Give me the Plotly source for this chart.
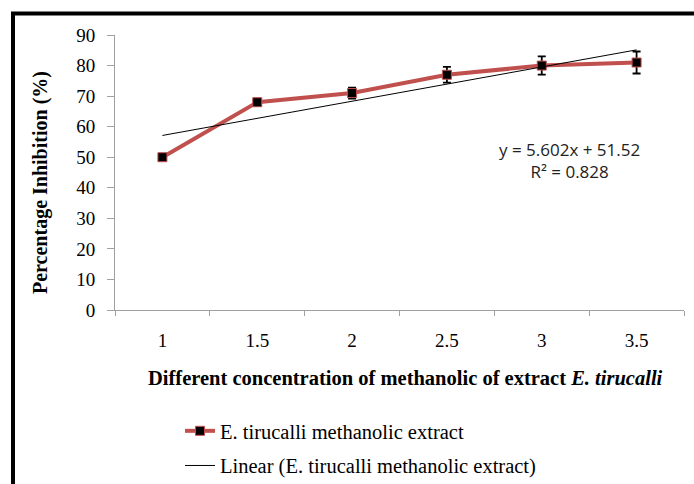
import plotly.graph_objects as go

concentrations = ["1", "1.5", "2", "2.5", "3", "3.5"]
inhibition = [50, 68, 71, 77, 80, 81]
errors = [0.5, 1.2, 1.8, 2.6, 3.0, 3.6]
slope = 5.602
intercept = 51.52
r_squared = 0.828

trend_x = [concentrations[0], concentrations[-1]]
trend_y = [slope * 1 + intercept, slope * len(concentrations) + intercept]

W, H = 694, 484
L, R, T, B = 115, 10, 35, 174
pw = W - L - R
ph = H - T - B

def px(x):
    return (x - L) / pw

def py(y):
    return (H - B - y) / ph

fig = go.Figure()
fig.add_trace(go.Scatter(
    x=concentrations, y=inhibition, mode="lines+markers",
    name="E. tirucalli methanolic extract", legendgroup="a",
    line=dict(color="#C0504D", width=4),
    marker=dict(symbol="square", size=9, color="black",
                line=dict(color="#C0504D", width=1)),
    error_y=dict(type="data", array=errors, visible=True,
                 color="black", thickness=1.8, width=4),
))
fig.add_trace(go.Scatter(
    x=trend_x, y=trend_y, mode="lines",
    name="Linear (E. tirucalli methanolic extract)", legendgroup="b",
    line=dict(color="black", width=1),
))

serif = "Liberation Serif, Times New Roman, serif"

fig.update_layout(
    width=W, height=H,
    margin=dict(l=L, r=R, t=T, b=B, autoexpand=False),
    paper_bgcolor="white", plot_bgcolor="white",
    showlegend=True,
    legend=dict(x=px(180), y=py(411), xanchor="left", yanchor="top",
                font=dict(family=serif, size=20.5, color="black"),
                traceorder="grouped", tracegroupgap=5,
                bgcolor="rgba(0,0,0,0)"),
    xaxis=dict(type="category", range=[-0.5, 5.5],
               showline=True, linecolor="#A0A0A0", linewidth=1,
               ticks="outside", tickson="boundaries", ticklen=5,
               tickcolor="#A0A0A0", showgrid=False,
               tickfont=dict(family=serif, size=19, color="black"),
               ticklabelstandoff=13),
    yaxis=dict(range=[0, 90], dtick=10,
               showline=True, linecolor="#A0A0A0", linewidth=1,
               ticks="outside", ticklen=7, tickcolor="#A0A0A0",
               showgrid=False, zeroline=False,
               tickfont=dict(family=serif, size=19, color="black"),
               ticklabelstandoff=8),
    annotations=[
        dict(x=px(405), y=py(378), xref="paper", yref="paper",
             xanchor="center", yanchor="middle",
             text="<b>Different concentration of methanolic of extract <i>E. tirucalli</i></b>",
             showarrow=False, font=dict(family=serif, size=20.5, color="black")),
        dict(x=px(40), y=py(183), xref="paper", yref="paper",
             xanchor="center", yanchor="middle",
             text="<b>Percentage Inhibition (%)</b>", textangle=-90,
             showarrow=False, font=dict(family=serif, size=20, color="black")),
        dict(x=px(569), y=py(160), xref="paper", yref="paper",
             xanchor="center", yanchor="middle",
             text=f"y = {slope}x + {intercept}<br>R² = {r_squared}",
             showarrow=False, align="center",
             font=dict(family="Open Sans, Liberation Sans, sans-serif", size=17, color="#222222")),
    ],
    shapes=[
        dict(type="line", xref="paper", yref="paper",
             x0=px(13), x1=px(13), y0=py(12), y1=py(490),
             line=dict(color="black", width=4)),
        dict(type="line", xref="paper", yref="paper",
             x0=px(11), x1=px(700), y0=py(13.5), y1=py(13.5),
             line=dict(color="black", width=4)),
    ],
)

fig.write_html("out.html")
